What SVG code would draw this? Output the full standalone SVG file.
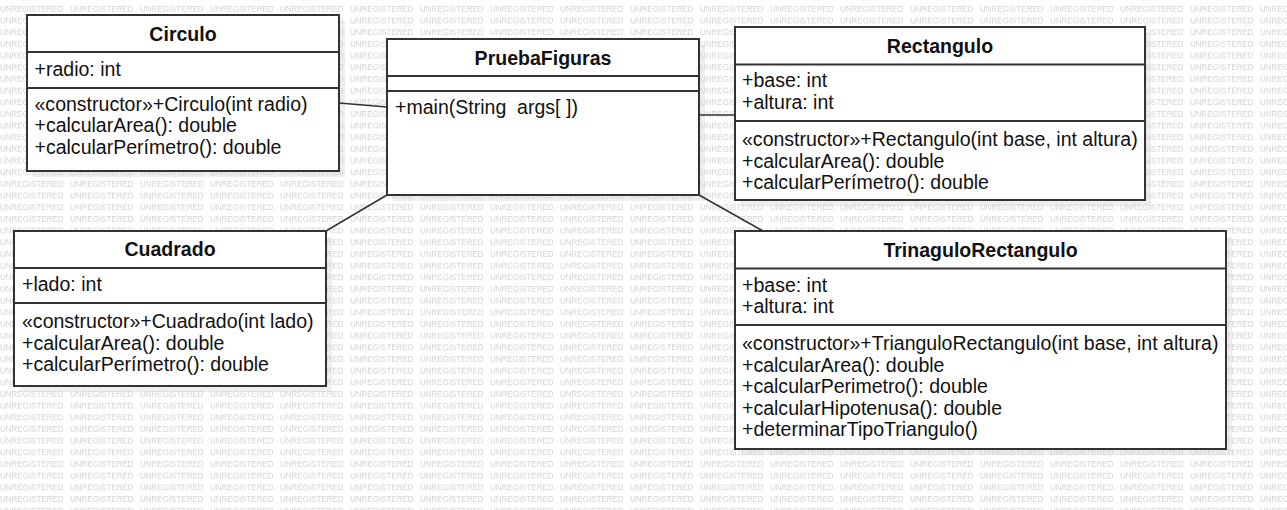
<svg xmlns="http://www.w3.org/2000/svg" width="1287" height="510" viewBox="0 0 1287 510">
<defs>
<style>
.sh{fill:#eeeeee}
.box{fill:#ffffff;stroke:#333333;stroke-width:2}
.dv{stroke:#333333;stroke-width:2}
.t{font-family:"Liberation Sans",Arial,sans-serif;font-size:19.55px;fill:#111111}
.h{font-weight:bold;text-anchor:middle}
.c{stroke:#333333;stroke-width:1.5;fill:none}
.wm{font-family:"Liberation Sans",Arial,sans-serif;font-size:8px;fill:#d2d2d2}
</style>
<pattern id="wmp" patternUnits="userSpaceOnUse" x="0" y="3" width="70" height="11.67">
<text class="wm" x="0" y="9">UNREGISTERED</text>
</pattern>
</defs>
<rect width="1287" height="510" fill="#ffffff"/>
<g id="shadows">
<rect class="sh" x="33" y="21" width="312" height="156"/>
<rect class="sh" x="393" y="45" width="312" height="156"/>
<rect class="sh" x="741" y="33" width="410" height="173"/>
<rect class="sh" x="20" y="237" width="312" height="155"/>
<rect class="sh" x="741" y="237" width="491" height="218"/>
</g>
<rect width="1287" height="510" fill="url(#wmp)"/>
<g id="connectors">
<line class="c" x1="339" y1="103" x2="387" y2="107"/>
<line class="c" x1="699" y1="115" x2="735" y2="115"/>
<line class="c" x1="387" y1="195" x2="326" y2="231"/>
<line class="c" x1="699" y1="195" x2="763" y2="231"/>
</g>
<g id="Circulo">
<rect class="box" x="27" y="15" width="312" height="156"/>
<line class="dv" x1="27" y1="52" x2="339" y2="52"/>
<line class="dv" x1="27" y1="88" x2="339" y2="88"/>
<text class="t h" x="183" y="41">Circulo</text>
<text class="t" x="34.5" y="76">+radio: int</text>
<text class="t" x="34.5" y="110.5">«constructor»+Circulo(int radio)</text>
<text class="t" x="34.5" y="132">+calcularArea(): double</text>
<text class="t" x="34.5" y="153.5">+calcularPerímetro(): double</text>
</g>
<g id="PruebaFiguras">
<rect class="box" x="387" y="39" width="312" height="156"/>
<line class="dv" x1="387" y1="76" x2="699" y2="76"/>
<line class="dv" x1="387" y1="91" x2="699" y2="91"/>
<text class="t h" x="543" y="65">PruebaFiguras</text>
<text class="t" x="395" y="114" xml:space="preserve">+main(String  args[ ])</text>
</g>
<g id="Rectangulo">
<rect class="box" x="735" y="27" width="410" height="173"/>
<line class="dv" x1="735" y1="64.5" x2="1145" y2="64.5"/>
<line class="dv" x1="735" y1="121" x2="1145" y2="121"/>
<text class="t h" x="940" y="52.5">Rectangulo</text>
<text class="t" x="742" y="87">+base: int</text>
<text class="t" x="742" y="108.5">+altura: int</text>
<text class="t" x="742" y="146">«constructor»+Rectangulo(int base, int altura)</text>
<text class="t" x="742" y="167.5">+calcularArea(): double</text>
<text class="t" x="742" y="189">+calcularPerímetro(): double</text>
</g>
<g id="Cuadrado">
<rect class="box" x="14" y="231" width="312" height="155"/>
<line class="dv" x1="14" y1="268" x2="326" y2="268"/>
<line class="dv" x1="14" y1="303" x2="326" y2="303"/>
<text class="t h" x="170" y="256">Cuadrado</text>
<text class="t" x="22" y="290.5">+lado: int</text>
<text class="t" x="22" y="328">«constructor»+Cuadrado(int lado)</text>
<text class="t" x="22" y="349.5">+calcularArea(): double</text>
<text class="t" x="22" y="371">+calcularPerímetro(): double</text>
</g>
<g id="TrinaguloRectangulo">
<rect class="box" x="735" y="231" width="491" height="218"/>
<line class="dv" x1="735" y1="268.5" x2="1226" y2="268.5"/>
<line class="dv" x1="735" y1="325" x2="1226" y2="325"/>
<text class="t h" x="980.5" y="257">TrinaguloRectangulo</text>
<text class="t" x="742" y="291.5">+base: int</text>
<text class="t" x="742" y="313">+altura: int</text>
<text class="t" x="742" y="350">«constructor»+TrianguloRectangulo(int base, int altura)</text>
<text class="t" x="742" y="371.5">+calcularArea(): double</text>
<text class="t" x="742" y="393">+calcularPerimetro(): double</text>
<text class="t" x="742" y="414.5">+calcularHipotenusa(): double</text>
<text class="t" x="742" y="436">+determinarTipoTriangulo()</text>
</g>
</svg>
